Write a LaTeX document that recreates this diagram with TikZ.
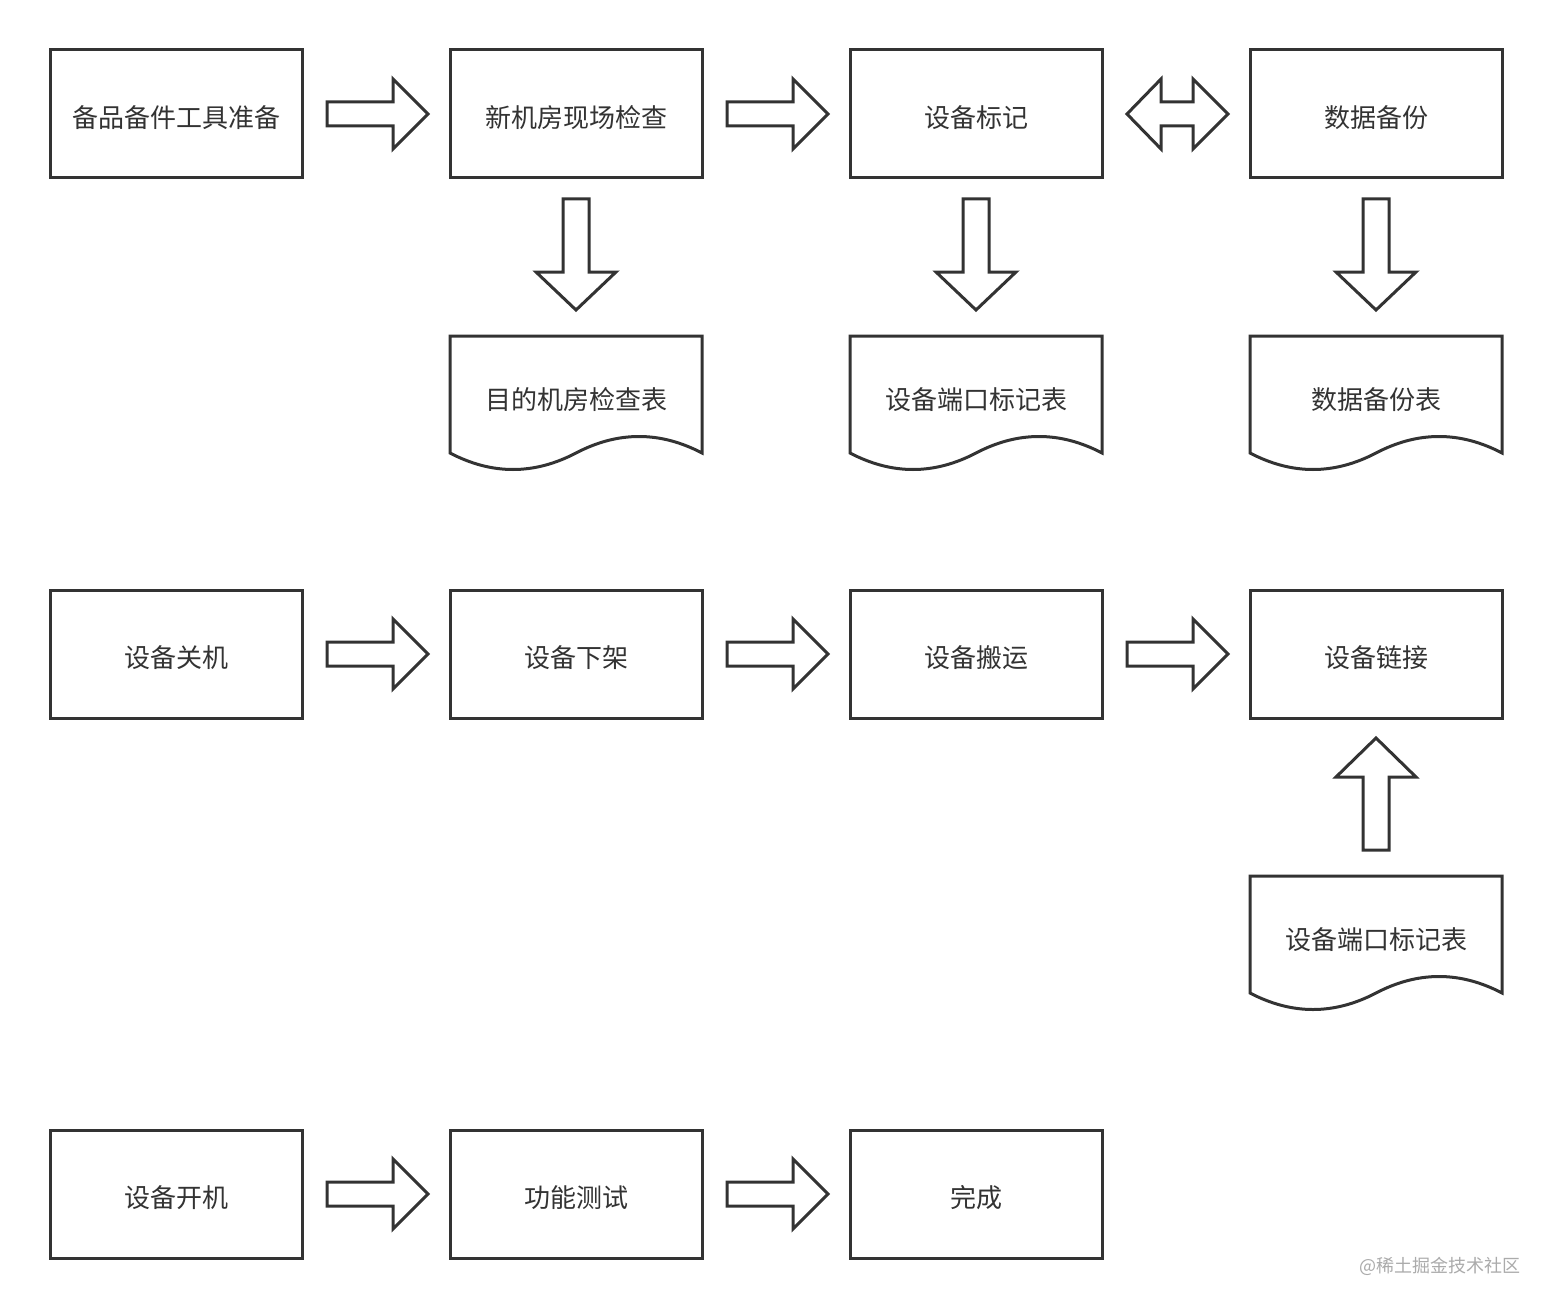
\documentclass[tikz,border=0pt]{standalone}
\usepackage{fontspec}
\newfontfamily\cjk{Noto Sans CJK SC}
\usetikzlibrary{calc}
\definecolor{ink}{HTML}{333333}
\definecolor{wmark}{HTML}{ABABAB}
\tikzset{
  box/.style={draw=ink, line width=3pt, fill=white, minimum width=252pt, minimum height=128pt,
    inner sep=0pt, outer sep=0pt, text=ink, font=\cjk\fontsize{26}{30}\selectfont,
    text height=30pt, text depth=2.2pt},
  doctext/.style={minimum width=252pt, minimum height=126pt, inner sep=0pt, outer sep=0pt,
    text=ink, font=\cjk\fontsize{26}{30}\selectfont, text height=23pt, text depth=1.2pt},
  docline/.style={draw=ink, line width=3pt, line join=miter},
  blockarrow/.style={draw=ink, line width=3pt, fill=white, line join=miter},
}
\newcommand\rarr[2]{\draw[blockarrow] ($($(#1.east)!0.5!(#2.west)$)+(-49,-12)$) -- ++(66,0) -- ++(0,-23) -- ++(35,35) -- ++(-35,35) -- ++(0,-23) -- ++(-66,0) -- cycle;}
\newcommand\lrarr[2]{\draw[blockarrow] ($($(#1.east)!0.5!(#2.west)$)+(-49,0)$) -- ++(34,-35) -- ++(0,23) -- ++(32,0) -- ++(0,-23) -- ++(35,35) -- ++(-35,35) -- ++(0,-23) -- ++(-32,0) -- ++(0,23) -- cycle;}
\newcommand\darr[2]{\draw[blockarrow] ($($(#1.south)!0.5!(#2.north)$)+(-13,-58)$) -- ++(0,73) -- ++(-27,0) -- ++(40,38) -- ++(40,-38) -- ++(-27,0) -- ++(0,-73) -- cycle;}
\newcommand\uarr[2]{\draw[blockarrow] ($($(#1.south)!0.5!(#2.north)$)+(-13,53)$) -- ++(0,-73) -- ++(-27,0) -- ++(40,-39) -- ++(40,39) -- ++(-27,0) -- ++(0,73) -- cycle;}
\newcommand\docout[1]{\draw[docline] (#1.north west) -- (#1.north east) -- ($(#1.north east)+(0,117)$)
  .. controls ($(#1.north east)+(-42,95)$) and ($(#1.north east)+(-84,95)$) .. ($(#1.north)+(0,117)$)
  .. controls ($(#1.north)+(-42,139)$) and ($(#1.north)+(-84,139)$) .. ($(#1.north west)+(0,117)$) -- cycle;}
\begin{document}
\begin{tikzpicture}[x=1pt,y=-1pt]
\fill[white] (0,0) rectangle (1552,1308);
\useasboundingbox (0,0) rectangle (1552,1308);
% row 1
\node[box] (a1) at (176,114) {备品备件工具准备};
\node[box] (a2) at (576,114) {新机房现场检查};
\node[box] (a3) at (976,114) {设备标记};
\node[box] (a4) at (1376,114) {数据备份};
\node[doctext] (d2) at (576,399) {目的机房检查表};
\node[doctext] (d3) at (976,399) {设备端口标记表};
\node[doctext] (d4) at (1376,399) {数据备份表};
\docout{d2}\docout{d3}\docout{d4}
\rarr{a1}{a2}
\rarr{a2}{a3}
\lrarr{a3}{a4}
\darr{a2}{d2}
\darr{a3}{d3}
\darr{a4}{d4}
% row 2
\node[box] (b1) at (176,654) {设备关机};
\node[box] (b2) at (576,654) {设备下架};
\node[box] (b3) at (976,654) {设备搬运};
\node[box] (b4) at (1376,654) {设备链接};
\node[doctext] (e4) at (1376,939) {设备端口标记表};
\docout{e4}
\rarr{b1}{b2}
\rarr{b2}{b3}
\rarr{b3}{b4}
\uarr{b4}{e4}
% row 3
\node[box] (c1) at (176,1194) {设备开机};
\node[box] (c2) at (576,1194) {功能测试};
\node[box] (c3) at (976,1194) {完成};
\rarr{c1}{c2}
\rarr{c2}{c3}
% watermark
\node[anchor=east, inner sep=0pt, text=wmark, font=\cjk\fontsize{18}{20}\selectfont] (wm) at (1521,1266) {@稀土掘金技术社区};
\end{tikzpicture}
\end{document}
